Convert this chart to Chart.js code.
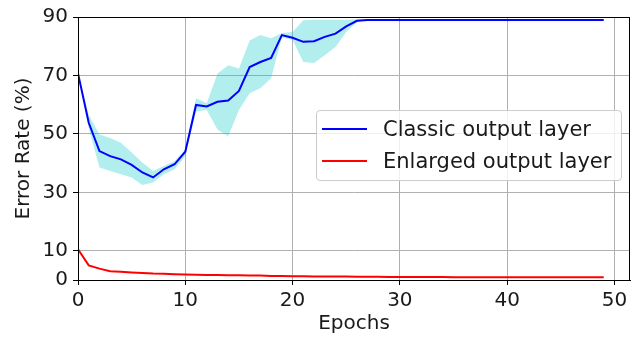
<!DOCTYPE html>
<html>
<head>
<meta charset="utf-8">
<script src="https://cdn.jsdelivr.net/npm/chart.js@4/dist/chart.umd.min.js"></script>
<style>
  html, body { margin: 0; padding: 0; background: #fff; }
  #wrap { position: relative; width: 642px; height: 339px; }
  #legend {
    position: absolute; left: 316px; top: 110px; width: 304px; height: 69px;
    border: 1px solid #cccccc; border-radius: 4px; background: rgba(255,255,255,0.8);
    font-family: "DejaVu Sans", sans-serif; font-size: 21px; color: #1a1a1a;
  }
  .row { position: absolute; left: 5px; height: 24px; display: flex; align-items: center; white-space: nowrap; }
  .swatch { width: 45px; height: 0; border-top: 2px solid; margin-right: 16px; }
</style>
</head>
<body>
<div id="wrap">
  <canvas id="graph" width="642" height="339"></canvas>
  <div id="legend">
    <div class="row" style="top:6px"><span class="swatch" style="border-color:#0000ff"></span>Classic output layer</div>
    <div class="row" style="top:38px"><span class="swatch" style="border-color:#ff0000"></span>Enlarged output layer</div>
  </div>
</div>
<script>
const epochs = Array.from({ length: 50 }, (_, i) => i);

const classic = [70.7, 53.8, 44.1, 42.4, 41.3, 39.4, 36.8, 35.1, 37.9, 39.6,
    43.9, 59.9, 59.4, 61.0, 61.4, 64.7, 72.9, 74.6, 76.0, 83.8,
    82.9, 81.5, 81.7, 83.2, 84.3, 86.8, 88.7, 89.0, 89.0, 89.0,
    89.0, 89.0, 89.0, 89.0, 89.0, 89.0, 89.0, 89.0, 89.0, 89.0,
    89.0, 89.0, 89.0, 89.0, 89.0, 89.0, 89.0, 89.0, 89.0, 89.0];

const classicUpper = [70.7, 56.5, 49.8, 48.6, 47.0, 43.6, 40.2, 37.3, 39.0, 40.7,
    44.7, 62.2, 60.5, 70.7, 73.5, 72.4, 82.0, 83.8, 82.7, 84.5,
    84.9, 88.9, 89.1, 89.1, 89.1, 89.1, 89.2, 89.2, 89.2, 89.2,
    89.2, 89.2, 89.2, 89.2, 89.2, 89.2, 89.2, 89.2, 89.2, 89.2,
    89.2, 89.2, 89.2, 89.2, 89.2, 89.2, 89.2, 89.2, 89.2, 89.2];

const classicLower = [70.7, 52.0, 38.5, 37.3, 36.2, 35.1, 32.5, 33.4, 36.2, 37.9,
    42.4, 57.7, 58.2, 51.5, 49.2, 58.2, 63.9, 65.6, 69.0, 83.0,
    82.1, 74.6, 74.3, 76.9, 79.7, 84.9, 88.3, 88.9, 88.9, 88.9,
    88.9, 88.9, 88.9, 88.9, 88.9, 88.9, 88.9, 88.9, 88.9, 88.9,
    88.9, 88.9, 88.9, 88.9, 88.9, 88.9, 88.9, 88.9, 88.9, 88.9];

const enlarged = [10.5, 5.0, 3.9, 3.0, 2.8, 2.6, 2.4, 2.2, 2.1, 2.0,
    1.9, 1.8, 1.7, 1.7, 1.6, 1.6, 1.5, 1.5, 1.4, 1.4,
    1.3, 1.3, 1.2, 1.2, 1.2, 1.2, 1.1, 1.1, 1.1, 1.0,
    1.0, 1.0, 1.0, 1.0, 1.0, 0.9, 0.9, 0.9, 0.9, 0.9,
    0.9, 0.9, 0.9, 0.9, 0.9, 0.9, 0.9, 0.9, 0.9, 0.9];

const xTicks = [0, 10, 20, 30, 40, 50];
const yTicks = [0, 10, 30, 50, 70, 90];

const font = { family: "DejaVu Sans", size: 20 };

// box around the plot area, like the matplotlib spines
const frame = {
    id: 'frame',
    afterDraw(chart) {
        const { ctx, chartArea: a } = chart;
        ctx.save();
        ctx.strokeStyle = '#000';
        ctx.lineWidth = 1;
        ctx.strokeRect(a.left + 0.5, a.top + 0.5, a.right - a.left - 1, a.bottom - a.top);
        ctx.restore();
    }
};

Chart.defaults.font.family = font.family;
Chart.defaults.color = '#1a1a1a';

const graph = document.getElementById('graph').getContext('2d');

let myChart = new Chart(graph, {
    type: 'line',
    data: {
        labels: epochs,
        datasets: [
            {
                label: 'Classic output layer',
                data: classic,
                borderColor: '#0000ff',
                borderWidth: 2,
                pointRadius: 0,
                fill: false
            },
            {
                label: 'Enlarged output layer',
                data: enlarged,
                borderColor: '#ff0000',
                borderWidth: 2,
                pointRadius: 0,
                fill: false
            },
            {
                label: 'upper',
                data: classicUpper,
                borderWidth: 0,
                pointRadius: 0,
                backgroundColor: 'rgba(0,200,200,0.3)',
                fill: false
            },
            {
                label: 'lower',
                data: classicLower,
                borderWidth: 0,
                pointRadius: 0,
                backgroundColor: 'rgba(0,200,200,0.3)',
                fill: 2
            }
        ]
    },
    options: {
        responsive: false,
        animation: false,
        layout: { padding: { top: 12, right: 12, bottom: 0, left: 0 } },
        plugins: {
            legend: { display: false },
            tooltip: { enabled: false }
        },
        scales: {
            x: {
                type: 'linear',
                min: 0,
                max: 51.45,
                afterBuildTicks: (s) => { s.ticks = xTicks.map(v => ({ value: v })); },
                afterFit: (s) => { s.height = 59; },
                ticks: { font: font, padding: 4, maxRotation: 0, color: '#1a1a1a' },
                grid: { color: '#b0b0b0', lineWidth: 1, tickLength: 5, tickColor: '#000' },
                border: { color: '#000', width: 1 },
                title: { display: true, text: 'Epochs', font: font, padding: { top: 0, bottom: 3 }, color: '#1a1a1a' }
            },
            y: {
                min: 0,
                max: 90,
                afterBuildTicks: (s) => { s.ticks = yTicks.map(v => ({ value: v })); },
                afterFit: (s) => { s.width = 78; },
                ticks: { font: font, padding: 5, color: '#1a1a1a' },
                grid: { color: '#b0b0b0', lineWidth: 1, tickLength: 5, tickColor: '#000' },
                border: { color: '#000', width: 1 },
                title: { display: true, text: 'Error Rate (%)', font: font, padding: { top: 12, bottom: 0 }, color: '#1a1a1a' }
            }
        }
    },
    plugins: [frame]
});
</script>
</body>
</html>
